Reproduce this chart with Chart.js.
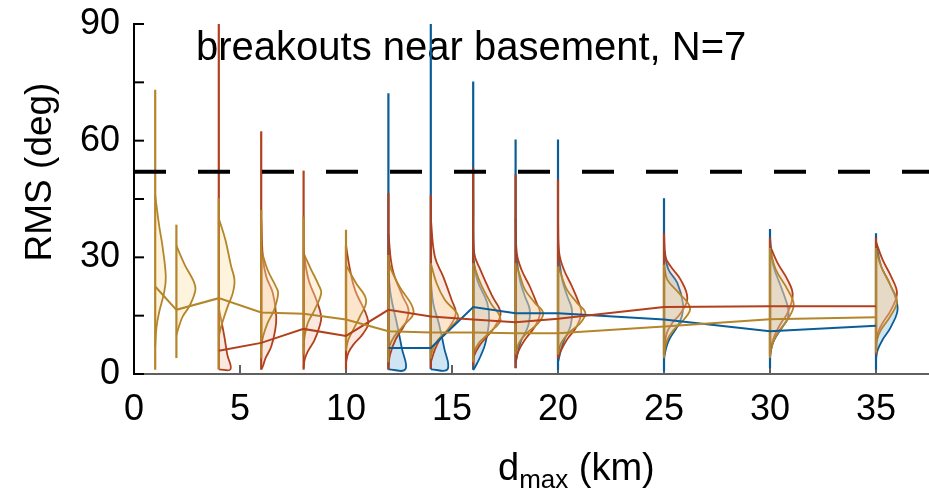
<!DOCTYPE html>
<html>
<head>
<meta charset="utf-8">
<script src="https://cdn.jsdelivr.net/npm/chart.js"></script>
<style>
  html, body { margin: 0; padding: 0; background: #fff; }
</style>
</head>
<body>
<canvas id="chart" width="929" height="494"></canvas>
<script>
// ---- data ----
const positions = [1, 2, 4, 6, 8, 10, 12, 14, 16, 18, 20, 25, 30, 35];
const xTicks = [0, 5, 10, 15, 20, 25, 30, 35];
const yTicks = [0, 30, 60, 90];
const yMarks = [0, 15, 30, 45, 60, 75, 90];
const threshold = 52;

// median lines (null = no violin at that position)
const goldMedian = [22.5, 16.5, 19.5, 15.8, 15.5, 14, 11, 10.7, 10.7, 10.5, 10.5, 12.2, 14.1, 14.6];
const redMedian = [null, null, 6, 8, 11.6, 9.8, 16.5, 14.8, 14, 13.3, 14.2, 17.2, 17.4, 17.4];
const blueMedian = [null, null, null, null, null, null, 6.7, 6.7, 17.2, 15.6, 15.6, 14, 11, 12.4];

// extent of each violin (vertical line)
const goldMin = [1.1, 4.1, 1.2, 4, 5, 6, 3, 4, 3, 5, 5, 4.1, 4.1, 5.5];
const goldMax = [73.1, 38.4, 45.2, 42.2, 40.5, 37.1, 30.6, 28.5, 28.5, 28.5, 27.7, 28.1, 32.4, 32.4];
const redMin = [null, null, 1.2, 1.1, 1.1, 1.1, 1.1, 1.5, 2, 1.5, 4, 5, 5, 5];
const redMax = [null, null, 95, 62.4, 52.3, 33, 46.5, 46, 53, 51.3, 50, 36.2, 35, 35];
const blueMin = [null, null, null, null, null, null, 1.2, 1.2, 1.1, 1.5, 1, 0.7, 1.5, 1.1];
const blueMax = [null, null, null, null, null, null, 72.2, 95, 75.2, 60.3, 60.3, 45.2, 37.3, 36.2];

// half-violin outlines: [RMS, half width in km]
const goldShape = [
  [[46, 0], [38, 0.19], [33, 0.34], [25, 0.5], [21, 0.42], [16, 0.19], [12, 0.06], [7, 0]],
  [[33, 0], [28, 0.4], [24, 0.8], [21.7, 0.9], [17.5, 0.62], [14.8, 0.3], [12.2, 0.12], [10, 0]],
  [[40, 0], [34.5, 0.31], [27.7, 0.58], [24.2, 0.74], [20.8, 0.66], [17.4, 0.42], [13.1, 0.16], [9.7, 0]],
  [[32, 0], [26.8, 0.3], [22.5, 0.69], [20.8, 0.8], [16.5, 0.61], [13.1, 0.3], [9.7, 0.09], [7, 0]],
  [[31, 0], [26.8, 0.36], [23, 0.7], [20.8, 0.83], [16.5, 0.52], [13.1, 0.2], [9.7, 0.05], [7, 0]],
  [[28, 0], [23.4, 0.47], [19, 0.95], [14.8, 0.66], [11.4, 0.34], [8.8, 0.11], [6.2, 0]],
  [[29, 0], [26.8, 0.13], [22.5, 0.52], [16.1, 1.19], [12.2, 0.67], [9.7, 0.28], [7.1, 0.05], [5, 0]],
  [[28.5, 0], [23.4, 0.27], [19.1, 0.66], [14.8, 1.29], [11.4, 0.82], [8.8, 0.34], [6.2, 0.08], [4, 0]],
  [[28.5, 0], [23.4, 0.34], [18.3, 0.82], [14, 1.29], [10.5, 0.74], [8, 0.27], [5.4, 0.03], [3, 0]],
  [[28.5, 0], [26, 0.16], [21.7, 0.44], [18.3, 0.91], [15.7, 1.3], [13.1, 1.07], [10.5, 0.52], [8, 0.16], [5, 0]],
  [[27.7, 0], [26, 0.12], [21.7, 0.42], [18.3, 0.9], [15.7, 1.29], [13.1, 1.05], [10.5, 0.5], [8, 0.15], [5, 0]],
  [[28, 0], [24.2, 0.16], [20.8, 0.71], [17, 1.23], [14, 0.94], [11.4, 0.47], [8.8, 0.16], [5, 0]],
  [[32, 0], [26.8, 0.28], [21.7, 0.83], [17.8, 1.12], [14, 0.83], [10.5, 0.36], [8, 0.13], [5, 0]],
  [[32, 0], [27.7, 0.24], [22.5, 0.71], [18.7, 0.99], [14.8, 0.67], [11.4, 0.24], [8.8, 0.05], [6, 0]]
];
const redShape = [
  null,
  null,
  [[17, 0], [10, 0.25], [5, 0.4], [1.2, 0.55], [1.2, 0]],
  [[40, 0], [30, 0.08], [25, 0.24], [20.8, 0.55], [14.8, 0.71], [11, 0.65], [7, 0.47], [4, 0.2], [2, 0.08], [1.2, 0]],
  [[32, 0], [26.8, 0.13], [23.4, 0.28], [19.1, 0.6], [14.8, 0.83], [12.2, 0.75], [8.8, 0.52], [5.8, 0.2], [3.7, 0.05], [1.5, 0]],
  [[33, 0], [26.8, 0.19], [21.7, 0.42], [13.5, 1.05], [10.5, 0.82], [7.5, 0.34], [5.4, 0.11], [3, 0]],
  [[36, 0], [26.8, 0.2], [20, 0.67], [16.5, 0.95], [13, 0.8], [9, 0.35], [5, 0.08], [2, 0]],
  [[40, 0], [30.2, 0.19], [25.1, 0.58], [19.1, 0.98], [15.7, 1.18], [12.2, 0.9], [8.8, 0.42], [6.2, 0.19], [3, 0]],
  [[45, 0], [31, 0.05], [26.8, 0.34], [20, 0.9], [15.7, 1.29], [12, 1.0], [9.7, 0.66], [7.1, 0.27], [4.5, 0.03], [2, 0]],
  [[40, 0], [31, 0.06], [26.8, 0.28], [22.5, 0.67], [18.3, 0.99], [15.7, 1.15], [12.2, 0.91], [8.8, 0.44], [5.8, 0.13], [3, 0]],
  [[40, 0], [31, 0.06], [26.8, 0.28], [22.5, 0.66], [18.3, 0.98], [15.7, 1.1], [12.2, 0.88], [8.8, 0.42], [5.8, 0.12], [4, 0]],
  [[36, 0], [30, 0.08], [27.7, 0.31], [24.2, 0.79], [19.5, 1.1], [15.7, 0.79], [13.1, 0.39], [10.5, 0.13], [6, 0]],
  [[33, 0], [28.5, 0.36], [24.2, 0.83], [20.4, 1.07], [15.7, 0.83], [13.1, 0.52], [9.7, 0.2], [6, 0]],
  [[34, 0], [29.4, 0.31], [25.1, 0.71], [20.8, 0.99], [16.5, 0.71], [13.1, 0.31], [10.5, 0.08], [8, 0]]
];
const blueShape = [
  null, null, null, null, null, null,
  [[26, 0], [20, 0.12], [13, 0.4], [6.7, 0.63], [1.2, 0.8], [1.2, 0]],
  [[24, 0], [18, 0.12], [13, 0.38], [6.7, 0.63], [1.2, 0.79], [1.2, 0]],
  [[30, 0], [24.2, 0.19], [18.3, 0.66], [14, 0.75], [8, 0.58], [4.5, 0.34], [2, 0.11], [1, 0]],
  [[32, 0], [24.2, 0.2], [20, 0.44], [16.5, 0.67], [12.5, 0.6], [8.8, 0.28], [6.2, 0.13], [3, 0]],
  [[32, 0], [24.2, 0.2], [20, 0.44], [16.5, 0.66], [12.5, 0.6], [8.8, 0.3], [6.2, 0.14], [3, 0]],
  [[32, 0], [27, 0.2], [23.4, 0.63], [18, 0.9], [15, 0.85], [12.2, 0.63], [8.8, 0.24], [6.2, 0.08], [4, 0]],
  [[35, 0], [28, 0.15], [22, 0.55], [17, 0.85], [14.5, 0.85], [12.2, 0.6], [8.8, 0.2], [6.2, 0.05], [4, 0]],
  [[34, 0], [27.7, 0.24], [23.4, 0.63], [17, 1.02], [12.2, 0.71], [8.8, 0.31], [6.2, 0.08], [4, 0]]
];

const FONT = '"Liberation Sans", Arial, Helvetica, sans-serif';

// blue drawn first (underneath), gold last
const series = [
  { color: '#0b5d99', fill: 'rgba(110,175,218,0.32)', med: blueMedian, lo: blueMin, hi: blueMax, shape: blueShape, z: 2 },
  { color: '#b2401c', fill: 'rgba(240,160,130,0.24)', med: redMedian, lo: redMin, hi: redMax, shape: redShape, z: 1 },
  { color: '#b5852a', fill: 'rgba(252,225,170,0.4)', med: goldMedian, lo: goldMin, hi: goldMax, shape: goldShape, z: 0 }
];

const datasets = [];
series.forEach((s) => {
  positions.forEach((p, i) => {
    if (!s.shape[i]) return;
    datasets.push({
      data: s.shape[i].map(([v, w]) => ({ x: p + w, y: v })),
      borderColor: s.color, backgroundColor: s.fill, borderWidth: 1.8,
      fill: 'shape', tension: 0.4, pointRadius: 0, order: 40 + s.z
    });
    datasets.push({
      data: [{ x: p, y: s.lo[i] }, { x: p, y: s.hi[i] }],
      borderColor: s.color, borderWidth: 2.2, pointRadius: 0, fill: false, order: 20 + s.z
    });
  });
  const pts = positions.map((p, i) => ({ x: p, y: s.med[i] })).filter((d) => d.y !== null);
  datasets.push({
    data: pts, borderColor: s.color, borderWidth: 2, pointRadius: 0, fill: false, tension: 0, order: 10 + s.z
  });
});
datasets.push({
  data: [{ x: 0, y: threshold }, { x: 37.5, y: threshold }],
  borderColor: '#000', borderWidth: 4, borderDash: [32, 32], pointRadius: 0, fill: false, order: 0
});

const decor = {
  id: 'decor',
  beforeDatasetsDraw(chart) {
    const { ctx, chartArea: a, scales: { x, y } } = chart;
    ctx.save();
    ctx.fillStyle = '#000';
    ctx.textBaseline = 'alphabetic';
    ctx.font = '40px ' + FONT;
    ctx.textAlign = 'left';
    ctx.fillText('breakouts near basement, N=7', a.left + 62, a.top + 36);

    // y title
    ctx.save();
    ctx.translate(51, 172);
    ctx.rotate(-Math.PI / 2);
    ctx.textAlign = 'center';
    ctx.font = '37px ' + FONT;
    ctx.fillText('RMS (deg)', 0, 0);
    ctx.restore();

    // x title with subscript
    ctx.textAlign = 'left';
    let tx = 498;
    const base = 480;
    ctx.font = '38px ' + FONT;
    ctx.fillText('d', tx, base);
    tx += ctx.measureText('d').width;
    ctx.font = '26px ' + FONT;
    ctx.fillText('max', tx, base + 8);
    tx += ctx.measureText('max').width;
    ctx.font = '38px ' + FONT;
    ctx.fillText(' (km)', tx, base);

    // inward tick marks
    ctx.lineWidth = 2;
    ctx.strokeStyle = '#000';
    yMarks.forEach((v) => {
      const py = y.getPixelForValue(v);
      ctx.beginPath(); ctx.moveTo(a.left, py); ctx.lineTo(a.left + 10, py); ctx.stroke();
    });
    ctx.strokeStyle = '#606060';
    xTicks.slice(1).forEach((v) => {
      const px = x.getPixelForValue(v);
      ctx.beginPath(); ctx.moveTo(px, a.bottom); ctx.lineTo(px, a.bottom - 9); ctx.stroke();
    });
    ctx.restore();
  }
};

new Chart(document.getElementById('chart'), {
  type: 'scatter',
  data: { datasets },
  plugins: [decor],
  options: {
    responsive: false,
    animation: false,
    showLine: true,
    layout: { padding: { top: 24, right: 0, left: 0, bottom: 0 } },
    plugins: { legend: { display: false }, tooltip: { enabled: false }, title: { display: false } },
    scales: {
      x: {
        type: 'linear', min: 0, max: 37.5,
        afterBuildTicks: (s) => { s.ticks = xTicks.map((v) => ({ value: v })); },
        afterFit: (s) => { s.height = 120; s.paddingLeft = 0; s.paddingRight = 0; },
        grid: { display: false, drawTicks: false },
        border: { display: true, color: '#606060', width: 2 },
        ticks: { color: '#000', font: { size: 36, family: FONT }, padding: 14, maxRotation: 0, autoSkip: false }
      },
      y: {
        type: 'linear', min: 0, max: 90,
        afterBuildTicks: (s) => { s.ticks = yTicks.map((v) => ({ value: v })); },
        afterFit: (s) => { s.width = 134; s.paddingTop = 0; s.paddingBottom = 0; },
        grid: { display: false, drawTicks: false },
        border: { display: true, color: '#000', width: 2 },
        ticks: { color: '#000', font: { size: 36, family: FONT }, padding: 14 }
      }
    }
  }
});
</script>
</body>
</html>
